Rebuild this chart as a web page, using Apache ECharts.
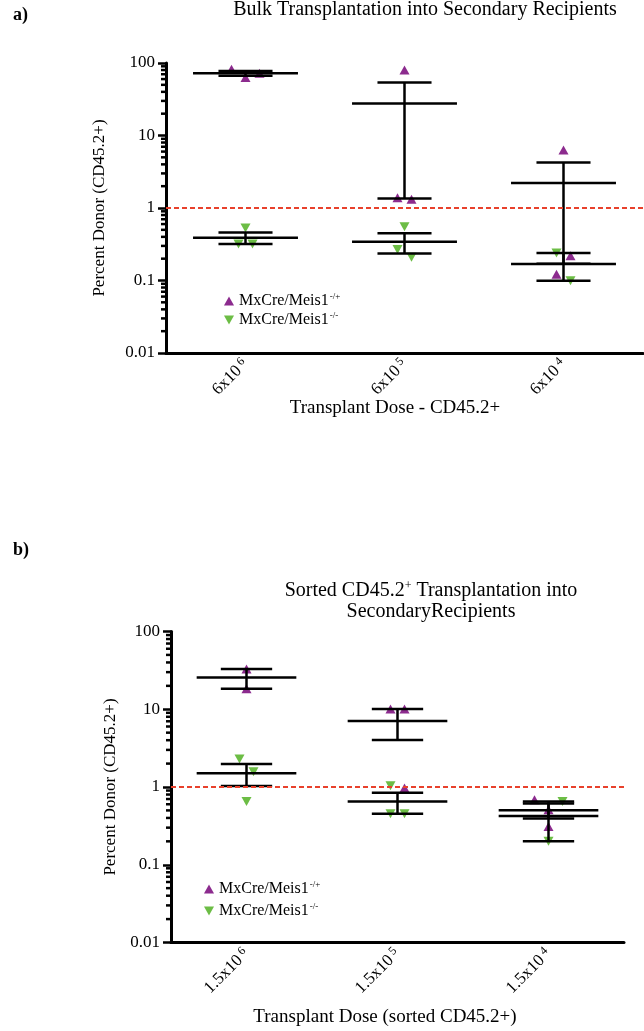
<!DOCTYPE html>
<html>
<head>
<meta charset="utf-8">
<title>Secondary transplantation</title>
<script src="https://cdn.jsdelivr.net/npm/echarts@6/dist/echarts.min.js"></script>
</head>
<body style="margin:0">
<div id="main" style="width:644px;height:1031px;"></div>
<script type="text/javascript">
// doses (x categories), written as base^exponent
var dosesA = ['6x10^6', '6x10^5', '6x10^4'];
var dosesB = ['1.5x10^6', '1.5x10^5', '1.5x10^4'];
var yTickLabels = ['0.01', '0.1', '1', '10', '100'];

// percent donor (CD45.2+) per recipient, one list per dose
var hetA = [[82, 63, 72], [80, 1.32, 1.38], [6.3, 0.22, 0.122]];
var koA = [[0.53, 0.32, 0.32], [0.55, 0.267, 0.209], [0.24, 0.099]];
var hetB = [[33, 18.4], [10.1, 10.1, 0.97], [0.687, 0.51, 0.311]];
var koB = [[2.29, 1.57, 0.65], [1.04, 0.453, 0.453], [0.65, 0.2]];
var cutoff = 1;

var HET = 'MxCre/Meis1|-/+';
var KO = 'MxCre/Meis1|-/-';
var FONT = 'Liberation Serif';
var PURPLE = '#8c2b8e';
var GREEN = '#6cbd45';
var UP = 'path://M5,0L10,9L0,9Z';
var DOWN = 'path://M0,0L10,0L5,9Z';

function meanSem(arr) {
  var n = arr.length;
  var m = arr.reduce(function (s, v) { return s + v; }, 0) / n;
  var ss = arr.reduce(function (s, v) { return s + (v - m) * (v - m); }, 0);
  var sem = Math.sqrt(ss / (n - 1)) / Math.sqrt(n);
  return [m, m - sem, m + sem];
}

// spread points that sit at nearly the same height (prism style scatter)
function swarm(het, ko) {
  var offHet = het.map(function (a) { return a.map(function () { return 0; }); });
  var offKo = ko.map(function (a) { return a.map(function () { return 0; }); });
  for (var i = 0; i < het.length; i++) {
    var pts = [];
    het[i].forEach(function (v, j) { pts.push({ v: v, arr: offHet[i], j: j }); });
    ko[i].forEach(function (v, j) { pts.push({ v: v, arr: offKo[i], j: j }); });
    pts.sort(function (a, b) { return b.v - a.v; });
    var clusters = [];
    pts.forEach(function (p, k) {
      if (k > 0 && Math.log10(pts[k - 1].v) - Math.log10(p.v) < 0.18) {
        clusters[clusters.length - 1].push(p);
      } else {
        clusters.push([p]);
      }
    });
    clusters.forEach(function (c) {
      var n = c.length;
      c.forEach(function (p, k) {
        var dx = n === 3 ? [-14, 14, 0][k] : (k - (n - 1) / 2) * 14;
        p.arr[p.j] = dx;
      });
    });
  }
  return [offHet, offKo];
}

function pointData(vals, offs) {
  var out = [];
  vals.forEach(function (list, i) {
    list.forEach(function (v, j) {
      out.push({ value: [i, v], symbolOffset: [offs[i][j], 0] });
    });
  });
  return out;
}

function errData(het, ko) {
  var out = [];
  het.forEach(function (list, i) {
    out.push([i].concat(meanSem(list)));
    out.push([i].concat(meanSem(ko[i])));
  });
  return out;
}

function renderErr(params, api) {
  var i = api.value(0);
  var c = api.coord([i, api.value(1)]);
  var lo = api.coord([i, api.value(2)]);
  var hi = api.coord([i, api.value(3)]);
  var band = api.coord([1, 1])[0] - api.coord([0, 1])[0];
  var mw = band * 0.33, cw = band * 0.17;
  var st = { stroke: '#000', lineWidth: 2.5 };
  return {
    type: 'group',
    children: [
      { type: 'line', shape: { x1: c[0] - mw, y1: c[1], x2: c[0] + mw, y2: c[1] }, style: st },
      { type: 'line', shape: { x1: c[0], y1: lo[1], x2: c[0], y2: hi[1] }, style: st },
      { type: 'line', shape: { x1: c[0] - cw, y1: lo[1], x2: c[0] + cw, y2: lo[1] }, style: st },
      { type: 'line', shape: { x1: c[0] - cw, y1: hi[1], x2: c[0] + cw, y2: hi[1] }, style: st }
    ]
  };
}

// log minor ticks 2..9 in each decade
var minorVals = [];
for (var k = -2; k < 2; k++) {
  for (var m = 2; m <= 9; m++) minorVals.push([0, m * Math.pow(10, k)]);
}

function renderMinor(params, api) {
  var y = api.coord([0, api.value(1)])[1];
  var x = params.coordSys.x;
  return { type: 'line', shape: { x1: x - 5, y1: y, x2: x, y2: y }, style: { stroke: '#000', lineWidth: 2.5 } };
}

function panelSeries(g, het, ko) {
  var offs = swarm(het, ko);
  return [
    {
      name: HET, type: 'scatter', xAxisIndex: g, yAxisIndex: g, z: 2,
      symbol: UP, symbolSize: [10, 9], itemStyle: { color: PURPLE, opacity: 1 },
      data: pointData(het, offs[0]),
      markLine: {
        silent: true, symbol: 'none', label: { show: false },
        lineStyle: { color: '#e8412c', type: [5, 3], width: 2 },
        data: [{ yAxis: cutoff }]
      }
    },
    {
      name: KO, type: 'scatter', xAxisIndex: g, yAxisIndex: g, z: 2,
      symbol: DOWN, symbolSize: [10, 9], itemStyle: { color: GREEN, opacity: 1 },
      data: pointData(ko, offs[1])
    },
    {
      type: 'custom', xAxisIndex: g, yAxisIndex: g, z: 4, silent: true,
      renderItem: renderErr, encode: { x: 0, y: [1, 2, 3] },
      data: errData(het, ko)
    },
    {
      type: 'custom', xAxisIndex: g, yAxisIndex: g, z: 4, silent: true,
      renderItem: renderMinor, encode: { x: 0, y: 1 },
      data: minorVals
    }
  ];
}

function xAxis(g, doses) {
  return {
    type: 'category', gridIndex: g, data: doses,
    axisLine: { onZero: false, lineStyle: { color: '#000', width: 3 } },
    axisTick: { alignWithLabel: true, length: 7, lineStyle: { width: 3 } },
    axisLabel: {
      interval: 0, rotate: 45, margin: 9, color: '#000',
      formatter: function (v) {
        var p = v.split('^');
        return '{b|' + p[0] + '}{s|' + p[1] + '}';
      },
      rich: {
        b: { fontFamily: FONT, fontSize: 17, lineHeight: 19, color: '#000' },
        s: { fontFamily: FONT, fontSize: 12, lineHeight: 11, verticalAlign: 'top', padding: [0, 0, 0, 3], color: '#000' }
      }
    }
  };
}

function yAxis(g, gap) {
  return {
    type: 'log', logBase: 10, gridIndex: g, min: 0.01, max: 100,
    name: 'Percent Donor (CD45.2+)', nameLocation: 'middle', nameGap: gap, nameRotate: 90,
    nameTextStyle: { fontFamily: FONT, fontSize: 17, color: '#000' },
    axisLine: { show: true, lineStyle: { color: '#000', width: 3 } },
    axisTick: { show: true, length: 8, lineStyle: { width: 2.5 } },
    splitLine: { show: false },
    axisLabel: {
      color: '#000', fontFamily: FONT, fontSize: 17, margin: 11,
      formatter: function (v) { return yTickLabels[Math.round(Math.log10(v)) + 2]; }
    }
  };
}

function legend(left, top, gap) {
  return {
    orient: 'vertical', left: left, top: top, padding: 0, itemGap: gap,
    itemWidth: 10, itemHeight: 9, selectedMode: false,
    data: [{ name: HET, icon: UP }, { name: KO, icon: DOWN }],
    formatter: function (name) {
      var p = name.split('|');
      return '{b|' + p[0] + '}{s|' + p[1] + '}';
    },
    textStyle: {
      rich: {
        b: { fontFamily: FONT, fontSize: 16, lineHeight: 18, color: '#000' },
        s: { fontFamily: FONT, fontSize: 9, lineHeight: 9, verticalAlign: 'top', padding: [0, 0, 0, 1], color: '#000' }
      }
    }
  };
}

var txt = { fontFamily: FONT, fontWeight: 'normal', color: '#000' };

var myChart = echarts.init(document.getElementById('main'));
var option = {
  animation: false,
  backgroundColor: '#fff',
  title: [
    { text: 'a)', left: 8, top: 1, textStyle: Object.assign({}, txt, { fontWeight: 'bold', fontSize: 18 }) },
    { text: 'Bulk Transplantation into Secondary Recipients', left: 425, textAlign: 'center', top: 0, padding: 0,
      textStyle: Object.assign({}, txt, { fontSize: 20 }) },
    { text: 'b)', left: 8, top: 536, textStyle: Object.assign({}, txt, { fontWeight: 'bold', fontSize: 18 }) },
    { text: '{t|Sorted CD45.2}{s|+}{t| Transplantation into}\n{t|SecondaryRecipients}', left: 431, textAlign: 'center', top: 580, padding: 0,
      textStyle: {
        fontWeight: 'normal',
        rich: {
          t: { fontFamily: FONT, fontSize: 20, lineHeight: 21, fontWeight: 'normal', color: '#000', align: 'center' },
          s: { fontFamily: FONT, fontSize: 12, lineHeight: 10, fontWeight: 'normal', verticalAlign: 'top', color: '#000' }
        }
      } },
    { text: 'Transplant Dose - CD45.2+', left: 395, textAlign: 'center', top: 399, padding: 0,
      textStyle: Object.assign({}, txt, { fontSize: 19 }) },
    { text: 'Transplant Dose (sorted CD45.2+)', left: 385, textAlign: 'center', top: 1008, padding: 0,
      textStyle: Object.assign({}, txt, { fontSize: 19 }) }
  ],
  legend: [legend(224, 292, 2), legend(204, 880, 5)],
  grid: [
    { left: 166, top: 63, width: 477, height: 290 },
    { left: 171, top: 631.5, width: 453, height: 311 }
  ],
  xAxis: [xAxis(0, dosesA), xAxis(1, dosesB)],
  yAxis: [yAxis(0, 58), yAxis(1, 52)],
  series: panelSeries(0, hetA, koA).concat(panelSeries(1, hetB, koB))
};
myChart.setOption(option);
</script>
</body>
</html>
